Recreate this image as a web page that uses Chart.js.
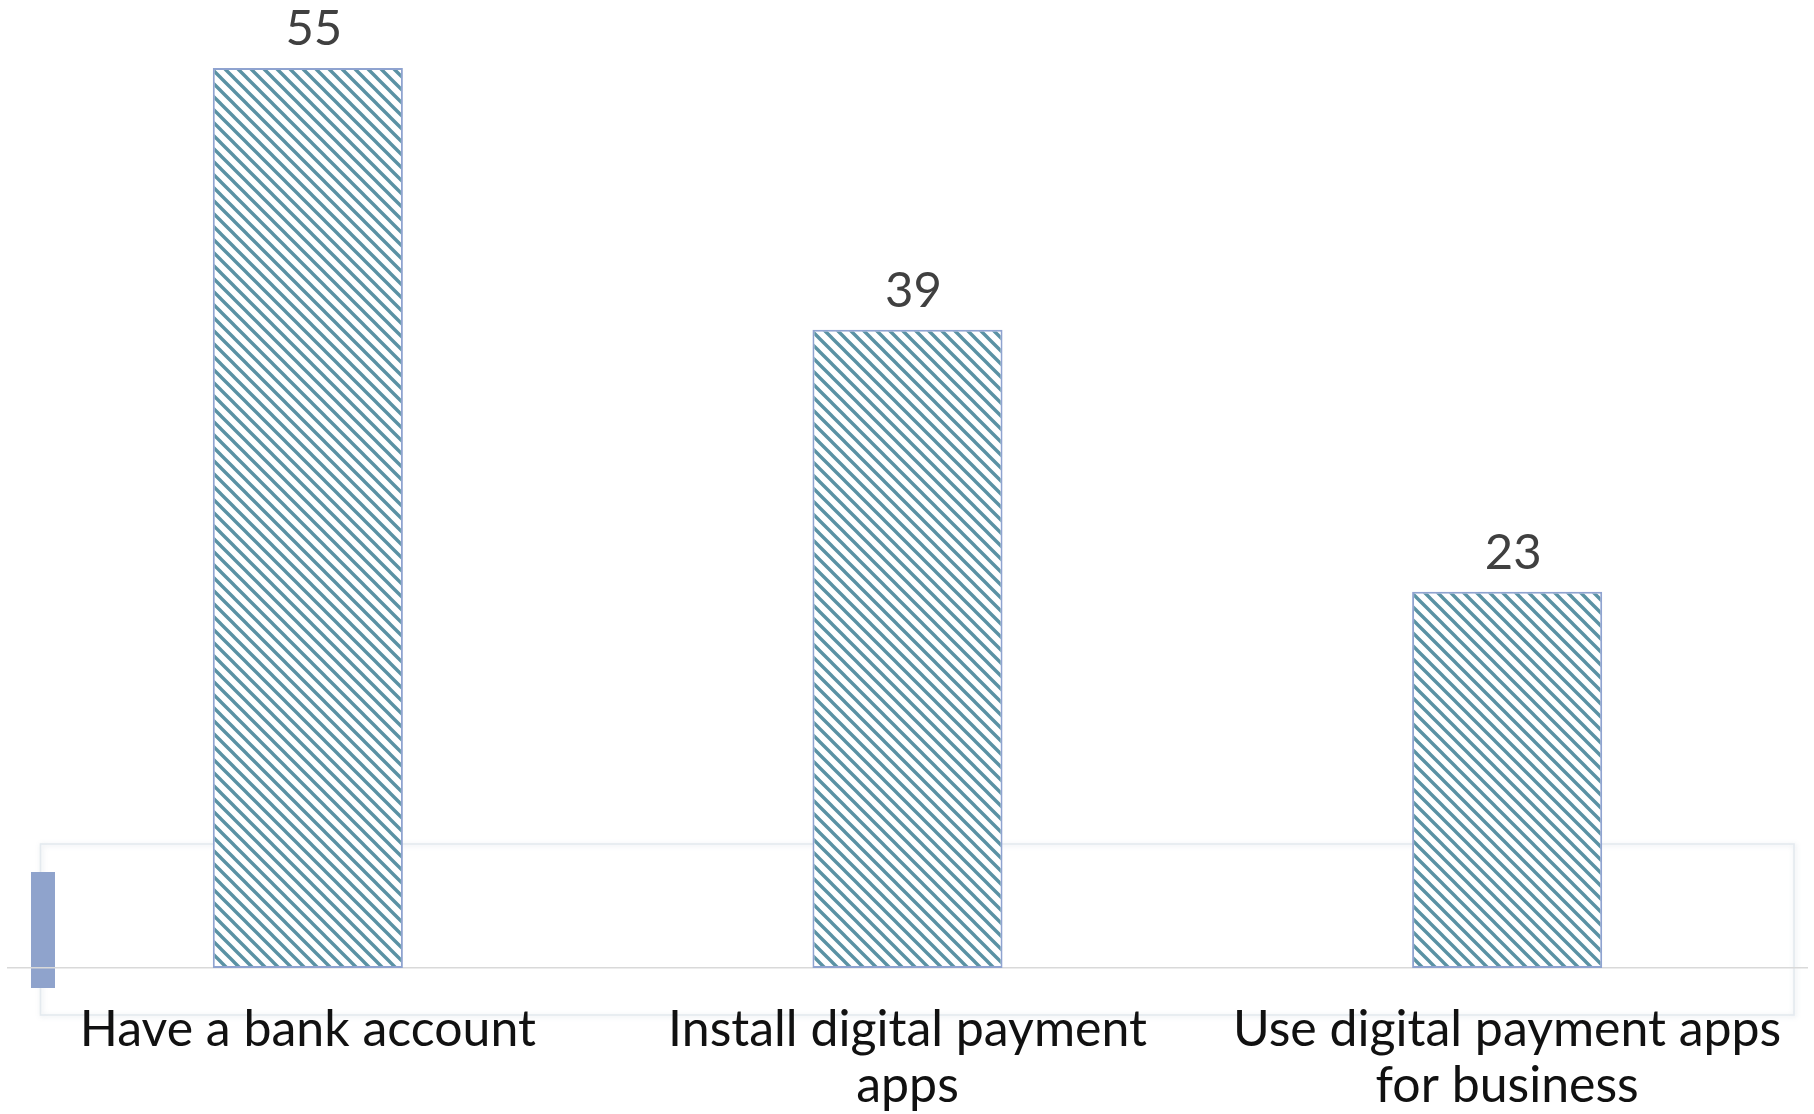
<!DOCTYPE html>
<html>
<head>
<meta charset="utf-8">
<script src="https://cdn.jsdelivr.net/npm/chart.js@4.4.1/dist/chart.umd.min.js"></script>
<style>
  html, body { margin: 0; padding: 0; background: #fff; }
  #wrap { width: 1814px; height: 1114px; }
</style>
</head>
<body>
<div id="wrap"><canvas id="barChart" width="1814" height="1114"></canvas></div>
<script>
const categories = [
    ['Have a bank account'],
    ['Install digital payment', 'apps'],
    ['Use digital payment apps', 'for business']
];
const shares = [55, 39, 23];
const yMax = 55;

const FONT = 'Lato, "Open Sans", sans-serif';

// diagonal hatch fill for the bars
function makeHatch() {
    const size = 13;
    const c = document.createElement('canvas');
    c.width = size;
    c.height = size;
    const g = c.getContext('2d');
    g.fillStyle = '#ffffff';
    g.fillRect(0, 0, size, size);
    g.strokeStyle = '#5a92a4';
    g.lineWidth = 3.4;
    g.beginPath();
    g.moveTo(-2, -2); g.lineTo(size + 2, size + 2);
    g.moveTo(-2, size - 2); g.lineTo(2, size + 2);
    g.moveTo(size - 2, -2); g.lineTo(size + 2, 2);
    g.stroke();
    return g.createPattern(c, 'repeat');
}

// faint frame and small swatch sitting behind the baseline
const backdrop = {
    id: 'backdrop',
    beforeDraw(chart) {
        const { ctx, chartArea } = chart;
        const bottom = chartArea.bottom;
        ctx.save();
        ctx.shadowColor = 'rgba(120,140,160,0.25)';
        ctx.shadowBlur = 5;
        ctx.shadowOffsetX = 1;
        ctx.shadowOffsetY = 1;
        ctx.strokeStyle = '#e4eaef';
        ctx.lineWidth = 1.6;
        ctx.strokeRect(40.5, bottom - 124, chartArea.right - 13 - 40.5, 171);
        ctx.restore();

        ctx.save();
        ctx.fillStyle = '#8fa3cc';
        ctx.fillRect(31, bottom - 96, 24, 116);
        ctx.restore();
    }
};

const valueLabels = {
    id: 'valueLabels',
    afterDatasetsDraw(chart) {
        const { ctx } = chart;
        const meta = chart.getDatasetMeta(0);
        ctx.save();
        ctx.font = '49px ' + FONT;
        ctx.fillStyle = '#404040';
        ctx.textAlign = 'center';
        ctx.textBaseline = 'alphabetic';
        meta.data.forEach((bar, i) => {
            ctx.fillText(String(shares[i]), bar.x + 6, bar.y - 23);
        });
        ctx.restore();
    }
};

new Chart(document.getElementById('barChart'), {
    type: 'bar',
    data: {
        labels: categories,
        datasets: [{
            data: shares,
            backgroundColor: makeHatch(),
            borderColor: '#8fa3d0',
            borderWidth: 2,
            borderSkipped: false,
            categoryPercentage: 1,
            barPercentage: 0.317
        }]
    },
    options: {
        responsive: false,
        animation: false,
        layout: { padding: { left: 8, right: 7, top: 68, bottom: 0 } },
        plugins: {
            legend: { display: false },
            tooltip: { enabled: false }
        },
        scales: {
            x: {
                grid: { display: false, drawTicks: false },
                border: { display: true, color: '#d9d9d9', width: 1.6 },
                ticks: {
                    color: '#111111',
                    font: { family: FONT, size: 50, lineHeight: 1.12 },
                    padding: 34,
                    maxRotation: 0,
                    autoSkip: false
                },
                afterFit(scale) {
                    scale.height = 146;
                    // long labels may hang past the edges; keep the plot full width
                    scale.paddingLeft = 0;
                    scale.paddingRight = 0;
                }
            },
            y: {
                display: false,
                min: 0,
                max: yMax
            }
        }
    },
    plugins: [backdrop, valueLabels]
});
</script>
</body>
</html>
